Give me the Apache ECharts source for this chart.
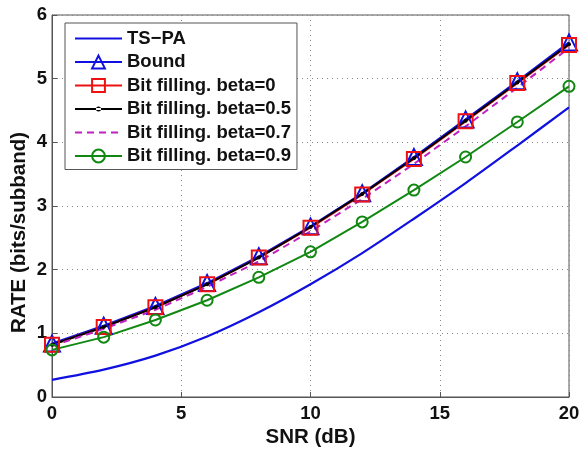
<!DOCTYPE html>
<html><head><meta charset="utf-8">
<script src="https://cdn.jsdelivr.net/npm/echarts@6/dist/echarts.min.js"></script>
<style>html,body{margin:0;padding:0;background:#fff}#c{width:583px;height:450px}</style>
</head><body><div id="c"></div>
<script>
const snr = [0, 2, 4, 6, 8, 10, 12, 14, 16, 18, 20];
const tsPA = [0.27, 0.43, 0.65, 0.95, 1.33, 1.77, 2.26, 2.80, 3.36, 3.95, 4.55];
const bound = [0.84, 1.12, 1.43, 1.79, 2.21, 2.68, 3.20, 3.77, 4.36, 4.96, 5.57];
const beta0 = [0.82, 1.10, 1.41, 1.77, 2.19, 2.66, 3.18, 3.74, 4.33, 4.93, 5.53];
const beta05 = [0.82, 1.10, 1.41, 1.77, 2.19, 2.67, 3.19, 3.75, 4.34, 4.94, 5.54];
const beta07 = [0.80, 1.07, 1.37, 1.73, 2.13, 2.60, 3.11, 3.66, 4.25, 4.86, 5.48];
const beta09 = [0.74, 0.94, 1.21, 1.52, 1.88, 2.28, 2.75, 3.25, 3.77, 4.32, 4.88];
const names = ['TS\u2212PA', 'Bound', 'Bit filling. beta=0', 'Bit filling. beta=0.5', 'Bit filling. beta=0.7', 'Bit filling. beta=0.9'];

const pts = arr => snr.map((x, i) => [x, arr[i]]);
const font = 'Liberation Sans, Arial, sans-serif';
const clear = 'rgba(255,255,255,0)';
const dotLineIcon = 'path://M0,0L0.01,0L0.01,0.01Z M0,7L47,7L47,9L0,9Z M21,8A2.5,2.5 0 1,0 26,8A2.5,2.5 0 1,0 21,8Z M46.99,15.99L47,16L46.99,16Z';
const chart = echarts.init(document.getElementById('c'));
chart.setOption({
  animation: false,
  grid: { left: 52, right: 14, top: 15, bottom: 53, show: true, borderColor: '#555', borderWidth: 1, backgroundColor: '#fff',
          containLabel: false, outerBoundsMode: 'none' },
  legend: {
    orient: 'vertical', left: 65, top: 23, itemWidth: 47, itemHeight: 16, itemGap: 4.5,
    padding: [6, 6, 4, 9], borderColor: '#555', borderWidth: 1, backgroundColor: '#fff',
    textStyle: { fontFamily: font, fontSize: 18.5, fontWeight: 'bold', color: '#111', lineHeight: 18.5 },
    data: names.map((n, i) => i === 3 ? { name: n, icon: dotLineIcon } : { name: n })
  },
  xAxis: {
    type: 'value', min: 0, max: 20, interval: 5,
    name: 'SNR (dB)', nameLocation: 'middle', nameGap: 30, nameMoveOverlap: false,
    nameTextStyle: { fontFamily: font, fontSize: 20.5, fontWeight: 'bold', color: '#111' },
    axisLine: { lineStyle: { color: '#555' } },
    axisTick: { inside: true, length: 5, lineStyle: { color: '#555' } },
    axisLabel: { fontFamily: font, fontSize: 18.5, fontWeight: 'bold', color: '#111', margin: 7 },
    splitLine: { show: true, lineStyle: { type: [1, 4], color: '#888' } }
  },
  yAxis: {
    type: 'value', min: 0, max: 6, interval: 1,
    name: 'RATE (bits/subband)', nameLocation: 'middle', nameGap: 22, nameRotate: 90, nameMoveOverlap: false,
    nameTextStyle: { fontFamily: font, fontSize: 20.5, fontWeight: 'bold', color: '#111', padding: [0, 53, 0, 0] },
    axisLine: { show: true, lineStyle: { color: '#555' } },
    axisTick: { show: true, inside: true, length: 5, lineStyle: { color: '#555' } },
    axisLabel: { fontFamily: font, fontSize: 18.5, fontWeight: 'bold', color: '#111', margin: 5 },
    splitLine: { show: true, lineStyle: { type: [1, 4], color: '#888' } }
  },
  series: [
    { name: names[0], type: 'line', data: pts(tsPA), smooth: 0.3, symbol: 'circle', showSymbol: false,
      lineStyle: { color: '#1010e0', width: 2.2 }, itemStyle: { color: clear, borderWidth: 0 } },
    { name: names[1], type: 'line', data: pts(bound), symbol: 'triangle', symbolSize: 16,
      lineStyle: { color: '#1010e0', width: 2 },
      itemStyle: { color: clear, borderColor: '#1010e0', borderWidth: 2 } },
    { name: names[2], type: 'line', data: pts(beta0), symbol: 'rect', symbolSize: 14,
      lineStyle: { color: '#ee1111', width: 2 },
      itemStyle: { color: clear, borderColor: '#ee1111', borderWidth: 2 } },
    { name: names[3], type: 'line', data: pts(beta05), symbol: 'circle', symbolSize: 4,
      lineStyle: { color: '#000', width: 2 }, itemStyle: { color: '#000' } },
    { name: names[4], type: 'line', data: pts(beta07), symbol: 'circle', showSymbol: false,
      lineStyle: { color: '#c020c0', width: 2, type: [7, 5] }, itemStyle: { color: clear, borderWidth: 0 } },
    { name: names[5], type: 'line', data: pts(beta09), symbol: 'circle', symbolSize: 11,
      lineStyle: { color: '#118811', width: 2 },
      itemStyle: { color: clear, borderColor: '#118811', borderWidth: 2 } }
  ]
});
</script></body></html>
